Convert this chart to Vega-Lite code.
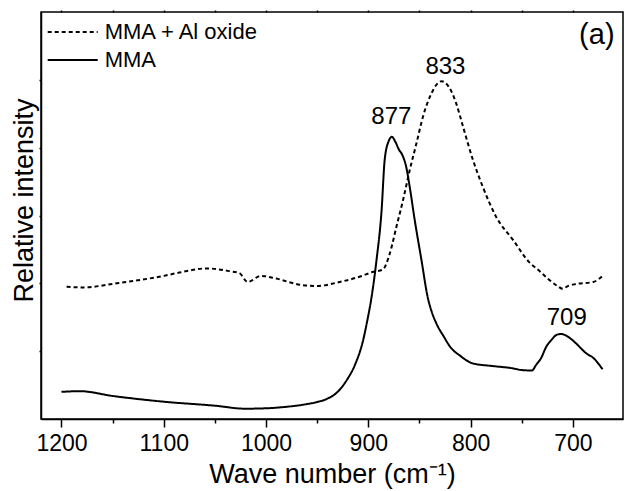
{
  "$schema": "https://vega.github.io/schema/vega-lite/v6.json",
  "width": 582,
  "height": 407,
  "autosize": {"type": "none"},
  "padding": {"left": 41, "top": 12, "right": 1, "bottom": 72},
  "background": "white",
  "config": {
    "font": "Liberation Sans",
    "view": {"stroke": "black", "strokeWidth": 1.5},
    "axis": {
      "domainColor": "black", "domainWidth": 1.5,
      "tickColor": "black", "tickWidth": 1.5,
      "labelColor": "black", "titleColor": "black",
      "grid": false,
      "labelFont": "Liberation Sans", "titleFont": "Liberation Sans",
      "titleFontWeight": "normal"
    }
  },
  "datasets": {
    "spectra": [
      {"s": "MMA", "wn": 1200, "i": 0.40},
      {"s": "MMA", "wn": 1182, "i": 0.41},
      {"s": "MMA", "wn": 1150, "i": 0.34},
      {"s": "MMA", "wn": 1100, "i": 0.255},
      {"s": "MMA", "wn": 1050, "i": 0.196},
      {"s": "MMA", "wn": 1020, "i": 0.152},
      {"s": "MMA", "wn": 1000, "i": 0.158},
      {"s": "MMA", "wn": 980, "i": 0.18},
      {"s": "MMA", "wn": 960, "i": 0.22},
      {"s": "MMA", "wn": 950, "i": 0.25},
      {"s": "MMA", "wn": 940, "i": 0.30},
      {"s": "MMA", "wn": 930, "i": 0.40},
      {"s": "MMA", "wn": 921, "i": 0.575},
      {"s": "MMA", "wn": 913, "i": 0.80},
      {"s": "MMA", "wn": 905, "i": 1.165},
      {"s": "MMA", "wn": 901, "i": 1.45},
      {"s": "MMA", "wn": 897, "i": 1.78},
      {"s": "MMA", "wn": 892, "i": 2.34},
      {"s": "MMA", "wn": 887, "i": 3.08},
      {"s": "MMA", "wn": 884, "i": 3.82},
      {"s": "MMA", "wn": 880, "i": 4.10},
      {"s": "MMA", "wn": 877, "i": 4.16},
      {"s": "MMA", "wn": 874, "i": 4.10},
      {"s": "MMA", "wn": 870, "i": 3.97},
      {"s": "MMA", "wn": 867, "i": 3.90},
      {"s": "MMA", "wn": 863, "i": 3.72},
      {"s": "MMA", "wn": 859.5, "i": 3.42},
      {"s": "MMA", "wn": 854.6, "i": 2.93},
      {"s": "MMA", "wn": 848, "i": 2.34},
      {"s": "MMA", "wn": 842, "i": 1.80},
      {"s": "MMA", "wn": 838, "i": 1.58},
      {"s": "MMA", "wn": 833.5, "i": 1.41},
      {"s": "MMA", "wn": 826, "i": 1.21},
      {"s": "MMA", "wn": 820, "i": 1.065},
      {"s": "MMA", "wn": 810, "i": 0.93},
      {"s": "MMA", "wn": 798, "i": 0.82},
      {"s": "MMA", "wn": 778, "i": 0.78},
      {"s": "MMA", "wn": 760, "i": 0.75},
      {"s": "MMA", "wn": 749, "i": 0.72},
      {"s": "MMA", "wn": 740, "i": 0.715},
      {"s": "MMA", "wn": 736, "i": 0.796},
      {"s": "MMA", "wn": 731, "i": 0.90},
      {"s": "MMA", "wn": 726, "i": 1.066},
      {"s": "MMA", "wn": 721, "i": 1.165},
      {"s": "MMA", "wn": 716, "i": 1.24},
      {"s": "MMA", "wn": 712, "i": 1.253},
      {"s": "MMA", "wn": 708, "i": 1.24},
      {"s": "MMA", "wn": 703, "i": 1.194},
      {"s": "MMA", "wn": 697, "i": 1.116},
      {"s": "MMA", "wn": 687, "i": 0.969},
      {"s": "MMA", "wn": 680, "i": 0.90},
      {"s": "MMA", "wn": 671, "i": 0.733},
      {"s": "MMA + Al oxide", "wn": 1195, "i": 1.95},
      {"s": "MMA + Al oxide", "wn": 1179, "i": 1.94},
      {"s": "MMA + Al oxide", "wn": 1146, "i": 2.00},
      {"s": "MMA + Al oxide", "wn": 1100, "i": 2.11},
      {"s": "MMA + Al oxide", "wn": 1081, "i": 2.17},
      {"s": "MMA + Al oxide", "wn": 1058, "i": 2.22},
      {"s": "MMA + Al oxide", "wn": 1036, "i": 2.18},
      {"s": "MMA + Al oxide", "wn": 1026, "i": 2.15},
      {"s": "MMA + Al oxide", "wn": 1018, "i": 2.02},
      {"s": "MMA + Al oxide", "wn": 1005, "i": 2.11},
      {"s": "MMA + Al oxide", "wn": 990, "i": 2.07},
      {"s": "MMA + Al oxide", "wn": 967, "i": 1.98},
      {"s": "MMA + Al oxide", "wn": 951, "i": 1.96},
      {"s": "MMA + Al oxide", "wn": 928, "i": 2.02},
      {"s": "MMA + Al oxide", "wn": 908, "i": 2.10},
      {"s": "MMA + Al oxide", "wn": 895, "i": 2.17},
      {"s": "MMA + Al oxide", "wn": 886, "i": 2.20},
      {"s": "MMA + Al oxide", "wn": 879, "i": 2.44},
      {"s": "MMA + Al oxide", "wn": 872.5, "i": 2.835},
      {"s": "MMA + Al oxide", "wn": 866, "i": 3.23},
      {"s": "MMA + Al oxide", "wn": 859.5, "i": 3.67},
      {"s": "MMA + Al oxide", "wn": 853, "i": 4.06},
      {"s": "MMA + Al oxide", "wn": 846.5, "i": 4.46},
      {"s": "MMA + Al oxide", "wn": 838.3, "i": 4.80},
      {"s": "MMA + Al oxide", "wn": 828.5, "i": 4.98},
      {"s": "MMA + Al oxide", "wn": 820.4, "i": 4.875},
      {"s": "MMA + Al oxide", "wn": 814, "i": 4.65},
      {"s": "MMA + Al oxide", "wn": 807.4, "i": 4.31},
      {"s": "MMA + Al oxide", "wn": 797.7, "i": 3.82},
      {"s": "MMA + Al oxide", "wn": 788, "i": 3.42},
      {"s": "MMA + Al oxide", "wn": 775, "i": 2.98},
      {"s": "MMA + Al oxide", "wn": 758.5, "i": 2.64},
      {"s": "MMA + Al oxide", "wn": 742, "i": 2.30},
      {"s": "MMA + Al oxide", "wn": 734, "i": 2.20},
      {"s": "MMA + Al oxide", "wn": 723, "i": 2.05},
      {"s": "MMA + Al oxide", "wn": 715, "i": 1.96},
      {"s": "MMA + Al oxide", "wn": 710, "i": 1.92},
      {"s": "MMA + Al oxide", "wn": 705, "i": 1.96},
      {"s": "MMA + Al oxide", "wn": 697, "i": 1.99},
      {"s": "MMA + Al oxide", "wn": 680, "i": 2.02},
      {"s": "MMA + Al oxide", "wn": 671, "i": 2.11}
    ],
    "peaks": [
      {"t": "877", "wn": 877.5, "i": 4.35},
      {"t": "833", "wn": 824.6, "i": 5.09},
      {"t": "709", "wn": 706, "i": 1.386}
    ],
    "panel": [
      {"t": "(a)", "wn": 676.6, "i": 5.53}
    ]
  },
  "layer": [
    {
      "data": {"name": "spectra"},
      "mark": {"type": "line", "color": "black", "strokeWidth": 2, "interpolate": "monotone"},
      "encoding": {
        "x": {
          "field": "wn", "type": "quantitative",
          "scale": {"domain": [651, 1220], "reverse": true, "nice": false, "zero": false},
          "axis": {
            "orient": "bottom",
            "title": "Wave number (cm⁻¹)",
            "values": [1200, 1150, 1100, 1050, 1000, 950, 900, 850, 800, 750, 700],
            "format": "d",
            "labelExpr": "datum.value % 100 === 0 ? datum.label : ''",
            "tickSize": {"condition": {"test": "datum.value % 100 === 0", "value": 8}, "value": 4},
            "labelFontSize": 23,
            "titleFontSize": 27,
            "labelPadding": 5,
            "titlePadding": 6
          }
        },
        "y": {
          "field": "i", "type": "quantitative",
          "scale": {"domain": [0, 6], "nice": false},
          "axis": {
            "values": [1, 2, 3, 4, 5],
            "labels": false,
            "tickSize": 2,
            "title": "Relative intensity",
            "titleFontSize": 27,
            "titlePadding": 0,
            "titleY": 188
          }
        },
        "strokeDash": {
          "field": "s", "type": "nominal",
          "scale": {"domain": ["MMA + Al oxide", "MMA"], "range": [[4, 3], [1, 0]]},
          "legend": {
            "title": null,
            "orient": "none",
            "legendX": 20.7,
            "legendY": 9,
            "padding": 0,
            "symbolType": "M-5,0H5",
            "symbolSize": 100,
            "symbolStrokeWidth": 2,
            "symbolStrokeColor": "black",
            "symbolFillColor": "transparent",
            "labelFontSize": 22,
            "labelColor": "black",
            "labelFont": "Liberation Sans",
            "labelOffset": 21,
            "rowPadding": 6
          }
        }
      }
    },
    {
      "data": {"name": "peaks"},
      "mark": {"type": "text", "fontSize": 24, "baseline": "alphabetic", "align": "center", "color": "black"},
      "encoding": {
        "x": {
          "field": "wn", "type": "quantitative",
          "scale": {"domain": [651, 1220], "reverse": true, "nice": false, "zero": false},
          "axis": {
            "orient": "top",
            "title": null,
            "labels": false,
            "domain": false,
            "tickSize": 2,
            "values": [1200, 1150, 1100, 1050, 1000, 950, 900, 850, 800, 750, 700]
          }
        },
        "y": {"field": "i", "type": "quantitative", "scale": {"domain": [0, 6], "nice": false}, "axis": null},
        "text": {"field": "t"}
      }
    },
    {
      "data": {"name": "panel"},
      "mark": {"type": "text", "fontSize": 29, "baseline": "alphabetic", "align": "center", "color": "black"},
      "encoding": {
        "x": {"field": "wn", "type": "quantitative", "scale": {"domain": [651, 1220], "reverse": true, "nice": false, "zero": false}, "axis": null},
        "y": {"field": "i", "type": "quantitative", "scale": {"domain": [0, 6], "nice": false}, "axis": null},
        "text": {"field": "t"}
      }
    }
  ],
  "resolve": {"axis": {"x": "independent", "y": "independent"}}
}
